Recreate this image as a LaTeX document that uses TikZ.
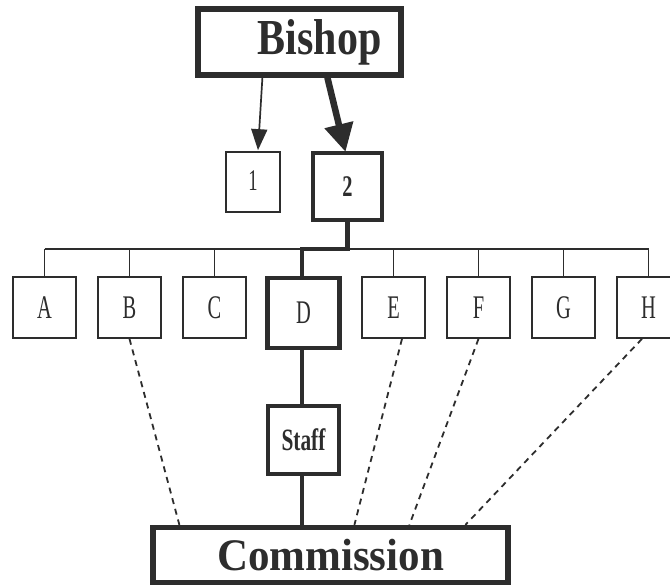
\documentclass[tikz,border=0pt]{standalone}
\usepackage{fontspec}
\setmainfont{Liberation Serif}
\usetikzlibrary{arrows.meta,calc}
\definecolor{ink}{RGB}{45,45,45}
\newcommand\boxlabel[1]{\scalebox{0.62}[1]{\fontsize{33}{35}\selectfont #1}}
\newcommand\boxlabelb[2]{\scalebox{#1}[1]{\fontsize{30}{32}\selectfont #2}}
\tikzset{
  thinbox/.style={draw=ink,line width=1.7pt,inner sep=0pt,text=ink,minimum width=63pt,minimum height=61pt},
  midbox/.style={draw=ink,line width=4.2pt,inner sep=0pt,text=ink},
  heavybox/.style={draw=ink,line width=5.2pt,inner sep=0pt,text=ink},
  thinline/.style={draw=ink,line width=1.7pt},
  thickline/.style={draw=ink,line width=4.2pt},
  dashline/.style={draw=ink,line width=1.8pt,dash pattern=on 6pt off 5pt}
}
\begin{document}
\begin{tikzpicture}[x=1pt,y=-1pt]
\useasboundingbox[fill=white] (0,0) rectangle (670,586);
% top
\node[heavybox,minimum width=203pt,minimum height=66pt] (bishop) at (299.5,42)
  {\hspace*{40pt}\raisebox{-3pt}{\scalebox{1}[1.2]{\fontsize{42}{44}\selectfont\bfseries Bishop}}};
\node[thinbox,minimum width=54pt,minimum height=60pt] (one) at (253,182) {\raisebox{3pt}{\boxlabelb{0.62}{1}}};
\node[midbox,minimum width=69pt,minimum height=67pt] (two) at (347.5,186.5) {\boxlabelb{0.68}{\bfseries 2}};
% row
\node[thinbox] (A) at (44.5,307.5) {\boxlabel{A}};
\node[thinbox] (B) at (129.5,307.5) {\boxlabel{B}};
\node[thinbox] (C) at (214.5,307.5) {\boxlabel{C}};
\node[midbox,minimum width=72pt,minimum height=70pt] (D) at (303.5,313) {\boxlabel{D}};
\node[thinbox] (E) at (393.5,307.5) {\boxlabel{E}};
\node[thinbox] (F) at (478.5,307.5) {\boxlabel{F}};
\node[thinbox] (G) at (563.5,307.5) {\boxlabel{G}};
\node[thinbox] (H) at (648.5,307.5) {\boxlabel{H}};
% staff and commission
\node[midbox,minimum width=71pt,minimum height=68pt] (staff) at (303.5,440)
  {\scalebox{0.69}[1]{\fontsize{31}{33}\selectfont\bfseries Staff}};
\node[heavybox,minimum width=355pt,minimum height=55pt] (com) at (330.5,555)
  {\scalebox{1}[1.05]{\fontsize{43}{45}\selectfont\bfseries Commission}};
% arrows from bishop
\draw[thinline,-{Triangle[length=21pt,width=16pt]}]
  ([xshift=67pt]bishop.south west) -- ([xshift=5pt,yshift=1pt]one.north);
\draw[draw=ink,line width=6.5pt,-{Triangle[length=28pt,width=28pt]}]
  ([xshift=132pt]bishop.south west) -- ([xshift=-2pt,yshift=-1pt]two.north);
% bus
\coordinate (busy) at (0,249);
\draw[thinline] (A.north |- busy) -- (H.north |- busy);
\foreach \n in {A,B,C,E,F,G,H} {\draw[thinline] (\n.north) -- (\n.north |- busy);}
\draw[thickline] (two.south) -- (two.south |- busy) -| ([xshift=-1.5pt]D.north);
\draw[thickline] ([xshift=-1.5pt]D.south) -- ([xshift=-1.5pt]staff.north);
\draw[thickline] ([xshift=-1.5pt]staff.south) -- ([xshift=-1.5pt]staff.south |- com.north);
% dashed links
\draw[dashline] (B.south) -- ([xshift=29pt]com.north west);
\draw[dashline] ([xshift=8.5pt]E.south) -- ([xshift=204pt]com.north west);
\draw[dashline] (F.south) -- ([xshift=259pt]com.north west);
\draw[dashline] ([xshift=-6.5pt]H.south) -- ([xshift=315pt]com.north west);
\end{tikzpicture}
\end{document}
